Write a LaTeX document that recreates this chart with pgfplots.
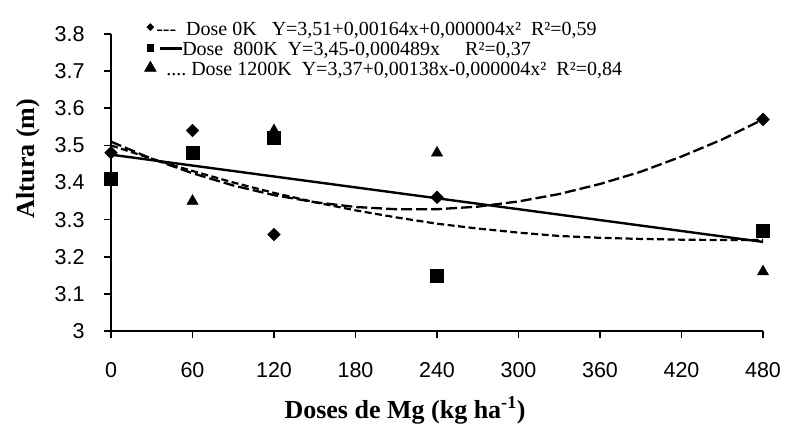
\documentclass[border=0pt]{standalone}
\usepackage{fontspec}
\setmainfont{Liberation Serif}
\newfontfamily\arial{Liberation Sans}
\usepackage{pgfplots}
\pgfplotsset{compat=1.18}
% legend mark drawn alone: scale factor and lift above the baseline
\pgfplotsset{legmark/.style 2 args={legend image code/.code={\draw[##1, /tikz/every mark/.append style={scale=#1}] plot coordinates {(0pt,#2)};}}}

\begin{document}
\begin{tikzpicture}
\begin{axis}[
  scale only axis,
  width=652pt, height=297pt,
  xmin=0, xmax=480, ymin=3, ymax=3.8,
  xtick={0,60,...,480},
  ytick={3,3.1,3.2,3.3,3.4,3.5,3.6,3.7,3.8},
  axis lines*=left,
  axis line style={-, line width=1.6pt},
  tick align=outside,
  major tick length=7pt,
  tick style={line width=1.6pt, black},
  /pgf/number format/assume math mode=true,
  tick label style={font=\arial\fontsize{21.5}{21.5}\selectfont},
  yticklabel style={xshift=-16pt},
  xticklabel style={yshift=-21pt},
  xlabel={\textbf{Doses de Mg (kg ha\textsuperscript{-1})}},
  xlabel style={font=\fontsize{26}{26}\selectfont, at={(axis description cs:0.451,-0.293)}, anchor=base},
  ylabel={\textbf{Altura (m)}},
  ylabel style={font=\fontsize{26}{26}\selectfont, at={(axis description cs:-0.1166,0.581)}, anchor=base},
  clip=false,
  legend style={at={(rel axis cs:0.051,1.044)}, anchor=north west,
    draw=none, fill=none, inner sep=0pt, row sep=0pt,
    nodes={inner sep=0pt, text height=14pt, text depth=6pt},
    font=\fontsize{20}{20}\selectfont, cells={anchor=west}},
  /tikz/every even column/.append style={column sep=7pt},
]
% observed means
\addplot[only marks, mark=square*, mark size=4.5pt, mark options={rotate=45, fill=black}, legmark={0.55}{4pt}]
  coordinates {(0,3.48) (60,3.54) (120,3.26) (240,3.36) (480,3.57)};
\addlegendentry{{-}{-}{-}\ \ Dose 0K\ \ \ Y=3,51+0,00164x+0,000004x²\ \ R²=0,59}
\addplot[only marks, mark=square*, mark size=6.5pt, mark options={fill=black}, legmark={0.5}{3.5pt}]
  coordinates {(0,3.41) (60,3.48) (120,3.52) (240,3.15) (480,3.27)};
\addlegendentry{\hspace{4pt}\rule[0.28em]{22pt}{2.6pt}Dose\ \ 800K\ \ Y=3,45-0,000489x\ \ \ \ \ R²=0,37}
\addplot[only marks, mark=triangle*, mark size=6.5pt, mark options={fill=black}, legmark={1.05}{3.5pt}]
  coordinates {(60,3.35) (120,3.54) (240,3.48) (480,3.16)};
\addlegendentry{\ \ ....\ Dose 1200K\ \ Y=3,37+0,00138x-0,000004x²\ \ R²=0,84}

% fitted curves
\addplot[forget plot, line width=2.3pt, dash pattern=on 11pt off 4pt]
  coordinates {(0,3.510) (30,3.464) (60,3.425) (90,3.392) (120,3.366) (150,3.347)
    (180,3.334) (210,3.328) (240,3.328) (270,3.335) (300,3.349) (330,3.369)
    (360,3.396) (390,3.429) (420,3.470) (450,3.516) (480,3.570)};
\addplot[forget plot, line width=2.4pt]
  coordinates {(0,3.475) (480,3.240)};
\addplot[forget plot, line width=2.2pt, dash pattern=on 7pt off 3.5pt]
  coordinates {(0,3.500) (30,3.464) (60,3.431) (90,3.400) (120,3.372) (150,3.347)
    (180,3.325) (210,3.306) (240,3.289) (270,3.276) (300,3.265) (330,3.256)
    (360,3.251) (390,3.248) (420,3.246) (450,3.245) (480,3.245)};
\end{axis}
\pgfresetboundingbox
\path (-111pt,-92pt) rectangle (675pt,331pt);
\end{tikzpicture}
\end{document}
